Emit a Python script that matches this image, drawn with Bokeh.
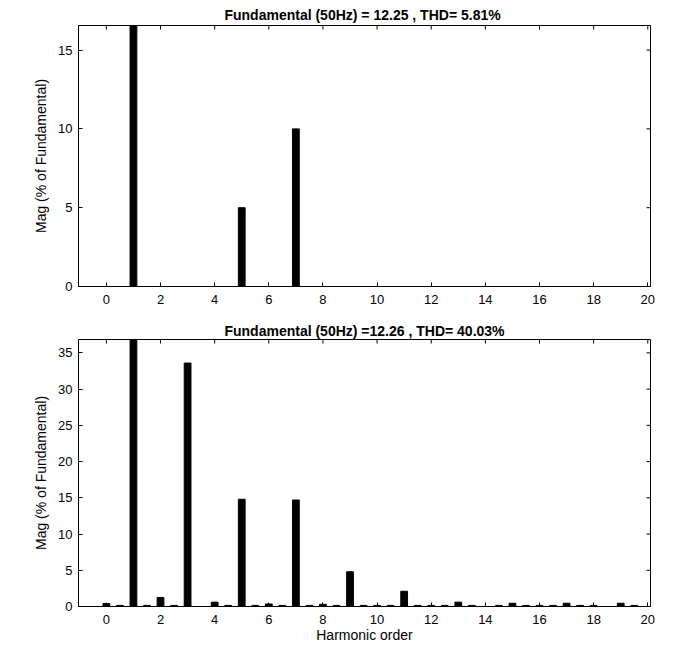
import math
from bokeh.plotting import figure
from bokeh.models import Range1d, FixedTicker
from bokeh.layouts import column
from bokeh.embed import file_html
from bokeh.resources import INLINE

# ---- data ----
top_title = "Fundamental (50Hz) = 12.25 , THD=  5.81%"
bot_title = "Fundamental (50Hz) =12.26 , THD= 40.03%"
x_label = "Harmonic order"
y_label = "Mag (% of Fundamental)"

top_orders = [1, 5, 7]
top_mags = [100.0, 5.0, 10.0]

bot_orders = [0, 0.5, 1, 1.5, 2, 2.5, 3, 3.5, 4, 4.5,
              5, 5.5, 6, 6.5, 7, 7.5, 8, 8.5, 9, 9.5,
              10, 10.5, 11, 11.5, 12, 12.5, 13, 13.5, 14, 14.5,
              15, 15.5, 16, 16.5, 17, 17.5, 18, 18.5, 19, 19.5]
bot_mags = [0.4, 0.15, 100.0, 0.15, 1.25, 0.15, 33.6, 0.0, 0.6, 0.15,
            14.8, 0.15, 0.35, 0.15, 14.7, 0.15, 0.3, 0.15, 4.8, 0.15,
            0.15, 0.15, 2.1, 0.15, 0.15, 0.15, 0.6, 0.15, 0.0, 0.15,
            0.45, 0.15, 0.15, 0.15, 0.45, 0.15, 0.15, 0.0, 0.45, 0.15]

x_ticks = [0, 2, 4, 6, 8, 10, 12, 14, 16, 18, 20]
top_y_ticks = [0, 5, 10, 15]
bot_y_ticks = [0, 5, 10, 15, 20, 25, 30, 35]

X_MIN, X_MAX = -1.03, 20.1
FONT = "Liberation Sans"


def make_fig(title, orders, mags, ymax, yticks, height, border_top, border_bottom,
             title_standoff, show_xlabel):
    p = figure(width=665, height=height, output_backend="svg", toolbar_location=None,
               x_range=Range1d(X_MIN, X_MAX), y_range=Range1d(0, ymax),
               min_border_left=78, min_border_right=15,
               min_border_top=border_top, min_border_bottom=border_bottom)
    p.title.text = title
    p.title.align = "center"
    p.title.text_font = FONT
    p.title.text_font_size = "14px"
    p.title.text_font_style = "bold"
    p.title.text_color = "black"
    p.title.standoff = title_standoff
    p.title.offset = 0
    p.grid.visible = False
    p.outline_line_color = "black"
    p.outline_line_alpha = 1
    p.background_fill_color = "white"
    p.border_fill_color = "white"

    p.vbar(x=orders, top=mags, width=0.25, bottom=0,
           fill_color="black", line_color="black", line_width=1)

    # mirrored inward ticks on top and right edges
    p.ray(x=x_ticks, y=[ymax] * len(x_ticks), length=4, length_units="screen",
          angle=-math.pi / 2, line_color="black", line_width=1)
    p.ray(x=[X_MAX] * len(yticks), y=yticks, length=4, length_units="screen",
          angle=math.pi, line_color="black", line_width=1)

    p.xaxis.ticker = FixedTicker(ticks=x_ticks)
    p.yaxis.ticker = FixedTicker(ticks=yticks)
    for ax in (p.xaxis[0], p.yaxis[0]):
        ax.major_tick_in = 4
        ax.major_tick_out = 0
        ax.minor_tick_line_color = None
        ax.axis_line_color = "black"
        ax.major_tick_line_color = "black"
        ax.major_label_text_font = FONT
        ax.major_label_text_font_size = "13px"
        ax.major_label_text_color = "black"
        ax.axis_label_text_font = FONT
        ax.axis_label_text_font_size = "14px"
        ax.axis_label_text_font_style = "normal"
        ax.axis_label_text_color = "black"
    p.xaxis.major_label_standoff = 8
    p.yaxis.major_label_standoff = 6
    p.yaxis.axis_label = y_label
    p.yaxis.axis_label_standoff = 6
    if show_xlabel:
        p.xaxis.axis_label = x_label
        p.xaxis.axis_label_standoff = 0
    return p


p1 = make_fig(top_title, top_orders, top_mags, 16.56, top_y_ticks,
              height=318, border_top=25, border_bottom=32, title_standoff=6,
              show_xlabel=False)
p2 = make_fig(bot_title, bot_orders, bot_mags, 36.85, bot_y_ticks,
              height=327, border_top=21, border_bottom=38, title_standoff=2,
              show_xlabel=True)

layout = column(p1, p2, spacing=0)
open("out.html", "w").write(file_html(layout, INLINE))
